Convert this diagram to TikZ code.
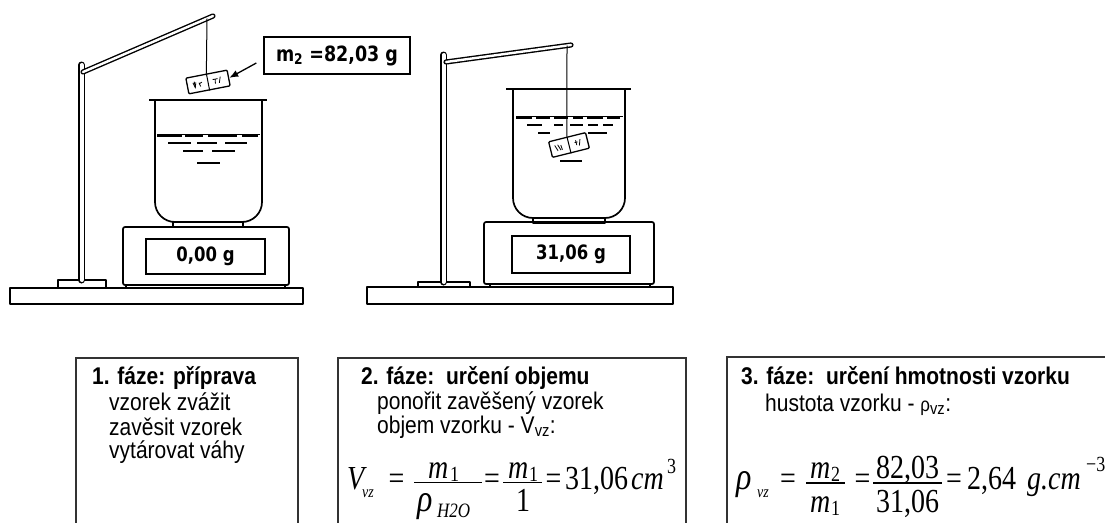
\documentclass[tikz,border=0pt]{standalone}
\usepackage{fontspec}
\usepackage{graphicx}
\setmainfont{Liberation Sans}
\newfontfamily\dvsans{DejaVu Sans}
\newfontfamily\tms{Liberation Serif}
\usetikzlibrary{arrows.meta}

% all lettering is set slightly tall
\newcommand\vs[1]{\scalebox{1}[1.2]{#1}}
\newcommand\st[1]{\scalebox{1}[1.15]{#1}}
\newcommand\txtsize{\fontsize{21}{25}\selectfont}

\tikzset{
  ink/.style={line width=1.7pt, line join=round},
  thin ink/.style={line width=1pt},
  rod/.style={draw=black, double=white, double distance=4pt, line width=1.5pt, line cap=round},
  arm/.style={draw=black, double=white, double distance=2.4pt, line width=1.4pt, line cap=round},
  water/.style={line width=2pt},
  sample/.style={draw, line width=1.3pt, minimum width=#1, minimum height=16pt, inner sep=0pt, rounded corners=1pt},
  display/.style={draw, line width=2.4pt, inner sep=0pt, font=\dvsans\bfseries\fontsize{16.5}{18}\selectfont},
  panel/.style={draw=black!80, line width=1.5pt},
  lbl/.style={inner sep=0pt, anchor=base west, font=\txtsize},
  head/.style={lbl, font=\txtsize\bfseries},
  fm/.style={inner sep=0pt, anchor=base west, font=\tms\fontsize{28}{28}\selectfont},
  fmi/.style={fm, font=\tms\itshape\fontsize{28}{28}\selectfont},
  greek/.style={fm, font=\tms\itshape\fontsize{32}{32}\selectfont},
  eq/.style={fm, anchor=base},
  subs/.style={inner sep=0pt, anchor=base west, font=\tms\itshape\fontsize{14}{14}\selectfont},
  idx/.style={inner sep=0pt, anchor=base west, font=\tms\fontsize{18}{18}\selectfont},
  idxi/.style={idx, font=\tms\itshape\fontsize{17}{17}\selectfont},
  bar/.style={line width=1.4pt},
}

\begin{document}
\begin{tikzpicture}[x=1pt,y=-1pt]
\useasboundingbox (0,0) rectangle (1105,522);
\fill[white] (0,0) rectangle (1105,522);

% ---------------- first set-up: sample hanging above the beaker
\draw[ink] (10,288) rectangle (303,304);
\draw[ink] (58,280) rectangle (106,288);
\draw[rod] (81.5,65) -- (81.5,280);
\draw[arm] (83,72) -- (213,16);
\coordinate (hookL) at (207,18.6);

% balance
\draw[ink] (126,284.5) rectangle (285,288);
\draw[ink, rounded corners=2pt] (123,227) rectangle (289,285);
\node[display, minimum width=119pt, minimum height=35pt] (dispL) at (205.5,256.5) {\vs{0,00 g}};

% beaker
\draw[ink] (173,221) rectangle (243,227);
\draw[ink, rounded corners=20pt, fill=white] (155,100) -- (155,222) -- (262,222) -- (262,100);
\draw[line width=2.2pt] (149,100) -- (267,100);
\draw[line width=0.8pt] (157,134.5) -- (260,134.5);
\foreach \a/\b/\y in {157/182/135.5, 185/203/135.5, 208/237/135.5, 242/258/135.5,
                      168/191/143, 197/217/143, 225/247/143,
                      183/203/151, 212/235/151, 197/220/163}
  \draw[water] (\a,\y) -- (\b,\y);

% sample
\node[sample=42pt, rotate=11] (blockL) at (208,82) {};
\draw[thin ink] (blockL.north) -- (blockL.south);
\begin{scope}[shift={(208,82)}, rotate=11, line width=0.8pt]
  \draw (-15,-2) -- (-13.5,3) -- (-12,-2);
  \draw (-13.5,-3) -- (-13.5,3);
  \draw (-9,-1) -- (-8,3) (-9,0) -- (-6,-1);
  \draw (5,-1.5) -- (10,-1.5) (7.5,-1.5) -- (7,3);
  \draw (13,-3) -- (11,3);
\end{scope}
\draw[thin ink] (hookL) -- (blockL.north);

% weighed mass label
\node[draw, line width=1.3pt, minimum width=146pt, minimum height=37pt, inner sep=0pt,
      font=\dvsans\bfseries\fontsize{17.5}{20}\selectfont] (mlabel) at (337,55.5)
      {\vs{m\textsubscript{2} =82,03 g}};
\draw[line width=1.3pt, -{Latex[length=9pt,width=7pt]}] ([shift={(-7,7.5)}]mlabel.west) -- (blockL.east);

% ---------------- second set-up: sample immersed in the water
\draw[ink] (367,287) rectangle (673,304);
\draw[ink] (418,282) rectangle (470,287);
\draw[rod] (443.5,55) -- (443.5,282);
\draw[arm] (446,62) -- (571,45);
\coordinate (hookR) at (567,45.6);

% balance
\draw[ink] (490,284) rectangle (650,287);
\draw[ink, rounded corners=2pt] (484,222) rectangle (654,284);
\node[display, minimum width=118pt, minimum height=37pt] (dispR) at (571,254.5) {\vs{31,06 g}};

% beaker
\draw[ink] (533,218) rectangle (605,223);
\draw[ink, rounded corners=20pt, fill=white] (513,89) -- (513,218) -- (625,218) -- (625,89);
\draw[line width=2.2pt] (506,89) -- (631,89);
\draw[line width=0.8pt] (516,116.5) -- (623,116.5);
\foreach \a/\b/\y in {516/532/117.5, 536/550/117.5, 554/568/117.5, 573/583/117.5, 587/603/117.5, 607/620/117.5,
                      527/542/125, 554/563/125, 570/583/125, 588/598/125, 603/613/125,
                      538/550/133, 588/607/133, 560/582/161}
  \draw[water] (\a,\y) -- (\b,\y);

% sample
\node[sample=38pt, fill=white, rotate=14] (blockR) at (569,145) {};
\draw[thin ink] (blockR.north) -- (blockR.south);
\begin{scope}[shift={(569,145)}, rotate=14, line width=0.8pt]
  \draw (-14,-3) -- (-12,3) (-11,-3) -- (-9,3) (-8,-2) -- (-7.5,3);
  \draw (6,-1) -- (9,-1) (7.5,-3) -- (7.5,2) (12,-3) -- (10,3);
\end{scope}
\draw[thin ink] (hookR) -- (blockR.north);

% ---------------- panels
\draw[panel] (76,530) -- (76,358) -- (298,358) -- (298,530);
\draw[panel] (338,530) -- (338,358) -- (686,358) -- (686,530);
\draw[panel] (727,530) -- (727,357) -- (1110,357);

% panel 1
\node[head] (p1a) at (92,384) {\st{1. fáze: příprava}};
\node[lbl] (p1b) at (109,410) {\st{vzorek zvážit}};
\node[lbl] (p1c) at (109,435) {\st{zavěsit vzorek}};
\node[lbl] (p1d) at (109,458) {\st{vytárovat váhy}};

% panel 2
\node[head] (p2a) at (361,384) {\st{2. fáze:\ \ určení objemu}};
\node[lbl] (p2b) at (377,409) {\st{ponořit zavěšený vzorek}};
\node[lbl] (p2c) at (377,433) {\st{objem vzorku - V\textsubscript{vz}:}};

\node[fmi] (v) at (347,489) {\vs{V}};
\node[subs] (vsub) at (362,497) {\vs{vz}};
\node[eq] (e1) at (396.5,489) {\vs{=}};
\draw[bar] (414,482.5) -- (482,482.5);
\node[fmi] (n1) at (428,478) {\vs{m}};
\node[idx] (n1s) at (450,481) {\vs{1}};
\node[greek] (d1) at (417,511) {\vs{ρ}};
\node[idxi] (d1s) at (437,517) {\vs{H2O}};
\node[eq] (e2) at (492,489) {\vs{=}};
\draw[bar] (503,482.5) -- (542,482.5);
\node[fmi] (n2) at (508,478) {\vs{m}};
\node[idx] (n2s) at (529,481) {\vs{1}};
\node[fm, anchor=base] (d2) at (523,511) {\vs{1}};
\node[eq] (e3) at (553.5,489) {\vs{=}};
\node[fm] (r1) at (565,489) {\vs{31,06}};
\node[fmi] (u1) at (631,489) {\vs{cm}};
\node[idx] (u1s) at (667,473) {\vs{3}};

% panel 3
\node[head] (p3a) at (741,384) {\st{3. fáze:\ \ určení hmotnosti vzorku}};
\node[lbl] (p3b) at (765,411) {\st{hustota vzorku - {\fontsize{17}{17}\selectfont ρ}\textsubscript{vz}:}};

\node[greek] (rho) at (736,489) {\vs{ρ}};
\node[subs] (rsub) at (757,497) {\vs{vz}};
\node[eq] (f1) at (788,489) {\vs{=}};
\draw[bar] (806,483) -- (845,483);
\node[fmi] (a1) at (810,478) {\vs{m}};
\node[idx] (a1s) at (831,481) {\vs{2}};
\node[fmi] (b1) at (810,512) {\vs{m}};
\node[idx] (b1s) at (831,515) {\vs{1}};
\node[eq] (f2) at (862.5,489) {\vs{=}};
\draw[bar] (873,483) -- (942,483);
\node[fm, anchor=base] (a2) at (907.5,478) {\vs{82,03}};
\node[fm, anchor=base] (b2) at (907.5,512) {\vs{31,06}};
\node[eq] (f3) at (954,489) {\vs{=}};
\node[fm] (r2) at (967,489) {\vs{2,64}};
\node[fmi] (u2) at (1027,489) {\vs{g.cm}};
\node[idx] (u2s) at (1086,471) {\vs{−3}};
\end{tikzpicture}
\end{document}
